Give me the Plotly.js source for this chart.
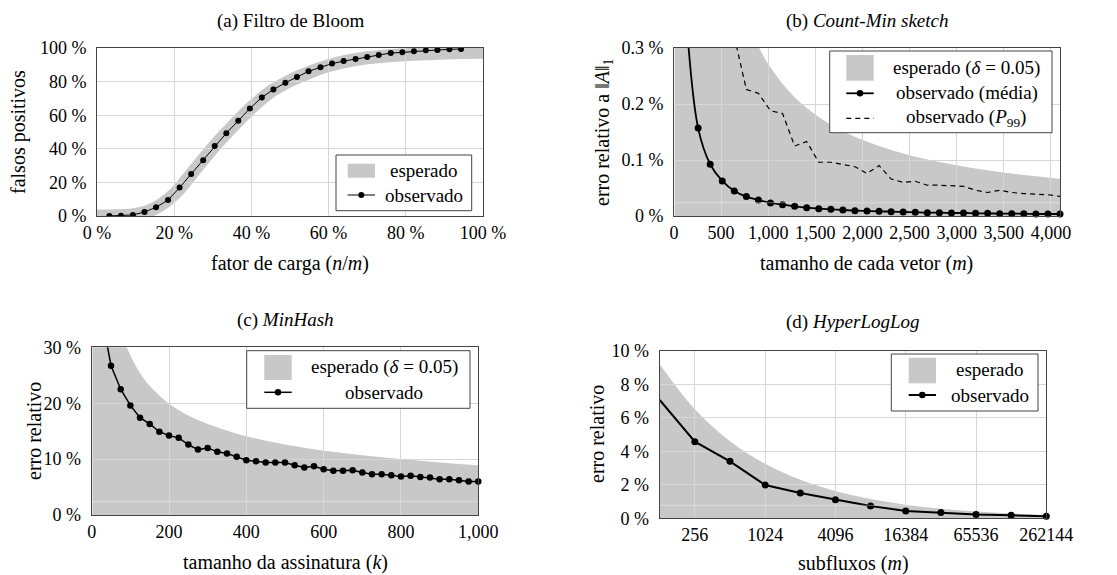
<!DOCTYPE html>
<html>
<head>
<meta charset="utf-8">
<script src="https://cdn.plot.ly/plotly-3.0.1.min.js"></script>
<style>html,body{margin:0;padding:0;background:#fff}#chart{width:1117px;height:575px}</style>
</head>
<body>
<div id="chart"></div>
<script>
// ---------------- DATA ----------------
// (a) Filtro de Bloom
const bloomLoad = [3.2, 6.2, 9.3, 12.3, 15.3, 18.4, 21.4, 24.4, 27.5, 30.5, 33.5, 36.6, 39.6, 42.7, 45.7, 48.8, 51.8, 54.8, 57.9, 60.9, 63.9, 67.0, 70.0, 73.0, 76.1, 79.1, 82.1, 85.2, 88.2, 91.3, 94.3];
const bloomObserved = [0.05, 0.1, 0.6, 2.4, 5.2, 9.5, 16.9, 25.0, 33.2, 41.7, 49.3, 56.7, 64.0, 70.6, 75.3, 79.3, 82.7, 86.1, 88.5, 90.7, 92.2, 93.4, 94.6, 95.8, 97.0, 97.4, 98.0, 98.6, 98.8, 99.2, 99.4];
const bloomExpLoad = [0, 5, 10, 15, 20, 25, 30, 35, 40, 45, 50, 55, 60, 65, 70, 75, 80, 85, 90, 95, 100];
const bloomExpected = [0, 0.1, 0.9, 4.6, 13, 26.5, 40.5, 53, 64.5, 74, 80.5, 85.5, 89.5, 92.3, 94.2, 95.3, 96.0, 96.6, 97.0, 97.3, 97.5];

// (b) Count-Min sketch
const cmsWidth = [128, 256, 384, 512, 640, 768, 896, 1024, 1152, 1280, 1408, 1536, 1664, 1792, 1920, 2048, 2176, 2304, 2432, 2560, 2688, 2816, 2944, 3072, 3200, 3328, 3456, 3584, 3712, 3840, 3968, 4096];
const cmsMean = [0.36, 0.157, 0.0924, 0.0626, 0.0447, 0.0346, 0.0286, 0.0233, 0.0203, 0.0173, 0.0149, 0.0131, 0.0119, 0.0107, 0.0095, 0.0089, 0.0083, 0.0078, 0.0072, 0.0066, 0.0060, 0.0060, 0.0054, 0.0054, 0.0048, 0.0048, 0.0042, 0.0042, 0.0042, 0.0036, 0.0036, 0.0036];
const cmsP99Width = [640, 768, 896, 1024, 1152, 1280, 1408, 1536, 1664, 1792, 1920, 2048, 2176, 2304, 2432, 2560, 2688, 2816, 2944, 3072, 3200, 3328, 3456, 3584, 3712, 3840, 3968, 4096];
const cmsP99 = [0.32, 0.226, 0.219, 0.188, 0.183, 0.125, 0.133, 0.096, 0.096, 0.092, 0.088, 0.076, 0.090, 0.066, 0.060, 0.062, 0.055, 0.055, 0.054, 0.053, 0.046, 0.042, 0.046, 0.042, 0.040, 0.039, 0.038, 0.035];
const cmsExpWidth = [8, 32, 64, 128, 256, 384, 512, 640, 768, 896, 1024, 1280, 1536, 1792, 2048, 2304, 2560, 2816, 3072, 3328, 3584, 3840, 4096];
const cmsExpected = [34, 8.49, 4.25, 2.12, 1.06, 0.708, 0.531, 0.425, 0.354, 0.303, 0.265, 0.212, 0.177, 0.152, 0.133, 0.118, 0.106, 0.0965, 0.0885, 0.0817, 0.0758, 0.0708, 0.0664];

// (c) MinHash
const mhK = [25, 50, 75, 100, 125, 150, 175, 200, 225, 250, 275, 300, 325, 350, 375, 400, 425, 450, 475, 500, 525, 550, 575, 600, 625, 650, 675, 700, 725, 750, 775, 800, 825, 850, 875, 900, 925, 950, 975, 1000];
const mhObserved = [36, 26.7, 22.5, 19.6, 17.4, 16.3, 14.9, 14.2, 13.8, 12.6, 11.7, 12.0, 11.3, 11.0, 10.4, 9.8, 9.6, 9.4, 9.4, 9.4, 8.9, 8.5, 8.7, 8.2, 7.9, 7.9, 8.0, 7.6, 7.3, 7.3, 7.1, 6.9, 7.0, 6.8, 6.7, 6.4, 6.4, 6.2, 6.0, 6.0];
const mhExpK = [2, 10, 25, 50, 75, 100, 125, 150, 200, 250, 300, 400, 500, 600, 700, 800, 900, 1000];
const mhExpected = [200, 89, 56.4, 39.9, 32.6, 28.6, 25.4, 23.1, 19.9, 17.8, 16.3, 14.1, 12.6, 11.5, 10.7, 10.0, 9.4, 8.9];

// (d) HyperLogLog
const hllM = [128, 256, 512, 1024, 2048, 4096, 8192, 16384, 32768, 65536, 131072, 262144];
const hllObserved = [7.06, 4.57, 3.40, 1.99, 1.51, 1.11, 0.74, 0.44, 0.34, 0.22, 0.18, 0.12];
const hllExpected = [9.19, 6.50, 4.60, 3.25, 2.30, 1.63, 1.15, 0.81, 0.57, 0.41, 0.29, 0.20];

// ticks
const pctTicks = [0, 20, 40, 60, 80, 100];
const pctTickText = ['0 %', '20 %', '40 %', '60 %', '80 %', '100 %'];
const cmsXTicks = [0, 500, 1000, 1500, 2000, 2500, 3000, 3500, 4000];
const cmsXTickText = ['0', '500', '1,000', '1,500', '2,000', '2,500', '3,000', '3,500', '4,000'];
const cmsYTicks = [0, 0.1, 0.2, 0.3];
const cmsYTickText = ['0 %', '0.1 %', '0.2 %', '0.3 %'];
const mhXTicks = [0, 200, 400, 600, 800, 1000];
const mhXTickText = ['0', '200', '400', '600', '800', '1,000'];
const mhYTicks = [0, 10, 20, 30];
const mhYTickText = ['0 %', '10 %', '20 %', '30 %'];
const hllXTicks = [256, 1024, 4096, 16384, 65536, 262144];
const hllXTickText = ['256', '1024', '4096', '16384', '65536', '262144'];
const hllYTicks = [0, 2, 4, 6, 8, 10];
const hllYTickText = ['0 %', '2 %', '4 %', '6 %', '8 %', '10 %'];

// ---------------- STYLE / LAYOUT ----------------
const W = 1117, H = 575;
const FONT = 'Liberation Serif, Times New Roman, serif';
const GRAY = '#c8c8c8';
const GRID = '#d6d6d6';
const FRAME = '#444444';
const fx = p => p / W;
const fy = p => 1 - p / H;

const layout = {
  width: W, height: H,
  margin: {l: 0, r: 0, t: 0, b: 0},
  paper_bgcolor: '#ffffff', plot_bgcolor: 'rgba(0,0,0,0)',
  showlegend: false,
  font: {family: FONT, size: 18, color: '#000'},
  shapes: [], annotations: []
};

function sfx(n) { return n === 1 ? '' : String(n); }

function addPanel(i, box, xr, yr, xType, xt, xtt, yt, ytt) {
  const f = i + 1, l = i + 5;
  const xd = [fx(box.l), fx(box.r)], yd = [fy(box.b), fy(box.t)];
  layout['xaxis' + sfx(f)] = {domain: xd, range: xr, type: xType, visible: false, anchor: 'y' + sfx(f), fixedrange: true};
  layout['yaxis' + sfx(f)] = {domain: yd, range: yr, type: 'linear', visible: false, anchor: 'x' + sfx(f), fixedrange: true};
  const common = {showgrid: true, gridcolor: GRID, gridwidth: 1, showline: true, mirror: true,
    linecolor: FRAME, linewidth: 1, zeroline: false, ticks: '', tickmode: 'array',
    tickfont: {family: FONT, size: 18, color: '#000'}, fixedrange: true};
  layout['xaxis' + l] = Object.assign({}, common, {domain: xd, range: xr, type: xType, anchor: 'y' + l,
    tickvals: xt, ticktext: xtt, ticklabelstandoff: 0});
  layout['yaxis' + l] = Object.assign({}, common, {domain: yd, range: yr, type: 'linear', anchor: 'x' + l,
    tickvals: yt, ticktext: ytt, ticklabelstandoff: 6});
}

const boxA = {l: 97, r: 483, t: 48, b: 216};
const boxB = {l: 674, r: 1060, t: 48, b: 216};
const boxC = {l: 91.7, r: 478.3, t: 347.3, b: 515};
const boxD = {l: 659.7, r: 1046.3, t: 350.7, b: 518.3};

addPanel(0, boxA, [0, 100], [0, 100], 'linear', pctTicks, pctTickText, pctTicks, pctTickText);
addPanel(1, boxB, [0, 4096], [0, 0.3], 'linear', cmsXTicks, cmsXTickText, cmsYTicks, cmsYTickText);
addPanel(2, boxC, [0, 1000], [0, 30], 'linear', mhXTicks, mhXTickText, mhYTicks, mhYTickText);
addPanel(3, boxD, [Math.log10(128), Math.log10(262144)], [0, 10], 'log', hllXTicks, hllXTickText, hllYTicks, hllYTickText);

// ---------------- TRACES ----------------
const base = {hoverinfo: 'skip', showlegend: false};
const traces = [
  Object.assign({}, base, {name: 'esperado', x: bloomExpLoad, y: bloomExpected, xaxis: 'x', yaxis: 'y',
    mode: 'lines', line: {color: GRAY, width: 13, shape: 'spline'}}),
  Object.assign({}, base, {name: 'esperado (δ = 0.05)', x: cmsExpWidth, y: cmsExpected, xaxis: 'x2', yaxis: 'y2',
    mode: 'lines', fill: 'tozeroy', fillcolor: GRAY, line: {color: GRAY, width: 0, shape: 'spline'}}),
  Object.assign({}, base, {name: 'esperado (δ = 0.05)', x: mhExpK, y: mhExpected, xaxis: 'x3', yaxis: 'y3',
    mode: 'lines', fill: 'tozeroy', fillcolor: GRAY, line: {color: GRAY, width: 0, shape: 'spline'}}),
  Object.assign({}, base, {name: 'esperado', x: hllM, y: hllExpected, xaxis: 'x4', yaxis: 'y4',
    mode: 'lines', fill: 'tozeroy', fillcolor: GRAY, line: {color: GRAY, width: 0, shape: 'spline'}}),

  Object.assign({}, base, {name: 'observado', x: bloomLoad, y: bloomObserved, xaxis: 'x5', yaxis: 'y5',
    mode: 'lines+markers', line: {color: '#000', width: 1}, marker: {color: '#000', size: 6}}),
  Object.assign({}, base, {name: 'observado (P99)', x: cmsP99Width, y: cmsP99, xaxis: 'x6', yaxis: 'y6',
    mode: 'lines', line: {color: '#000', width: 1.2, dash: '5px,4px'}}),
  Object.assign({}, base, {name: 'observado (média)', x: cmsWidth, y: cmsMean, xaxis: 'x6', yaxis: 'y6',
    mode: 'lines+markers', cliponaxis: false, line: {color: '#000', width: 1.8, shape: 'spline'}, marker: {color: '#000', size: 7}}),
  Object.assign({}, base, {name: 'observado', x: mhK, y: mhObserved, xaxis: 'x7', yaxis: 'y7',
    mode: 'lines+markers', cliponaxis: false, line: {color: '#000', width: 1.5}, marker: {color: '#000', size: 6.5}}),
  Object.assign({}, base, {name: 'observado', x: hllM, y: hllObserved, xaxis: 'x8', yaxis: 'y8',
    mode: 'lines+markers', cliponaxis: false, line: {color: '#000', width: 2}, marker: {color: '#000', size: 7}})
];

// ---------------- TEXT: titles and axis labels ----------------
function txt(text, x, y, size, angle) {
  layout.annotations.push({text: text, x: fx(x), y: fy(y), xref: 'paper', yref: 'paper',
    xanchor: 'center', yanchor: 'middle', showarrow: false, textangle: angle || 0,
    font: {family: FONT, size: size, color: '#000'}});
}
txt('(a) Filtro de Bloom', 290, 21, 19);
txt('(b) <i>Count-Min sketch</i>', 867, 21, 19);
txt('(c) <i>MinHash</i>', 285, 320, 19);
txt('(d) <i>HyperLogLog</i>', 853, 322, 19);

txt('fator de carga (<i>n</i>/<i>m</i>)', 290, 263, 20);
txt('falsos positivos', 19, 132, 20, -90);
txt('tamanho de cada vetor (<i>m</i>)', 866, 263, 20);
txt('erro relativo a ‖<i>A</i>‖<sub>1</sub>', 604, 132, 20, -90);
txt('tamanho da assinatura (<i>k</i>)', 285, 562, 20);
txt('erro relativo', 34, 431, 20, -90);
txt('subfluxos (<i>m</i>)', 853, 563, 20);
txt('erro relativo', 597, 434, 20, -90);

// ---------------- LEGENDS (drawn as boxes + real text) ----------------
function rect(l, t, r, b, fill, lineColor, lw) {
  layout.shapes.push({type: 'rect', xref: 'paper', yref: 'paper', layer: 'above',
    x0: fx(l), x1: fx(r), y0: fy(b), y1: fy(t), fillcolor: fill,
    line: {color: lineColor || fill, width: lw === undefined ? 0 : lw}});
}
function hline(l, r, y, lw, dash) {
  layout.shapes.push({type: 'line', xref: 'paper', yref: 'paper', layer: 'above',
    x0: fx(l), x1: fx(r), y0: fy(y), y1: fy(y), line: {color: '#000', width: lw, dash: dash || 'solid'}});
}
function dot(cx, cy, rad) {
  layout.shapes.push({type: 'circle', xref: 'paper', yref: 'paper', layer: 'above',
    x0: fx(cx - rad), x1: fx(cx + rad), y0: fy(cy + rad), y1: fy(cy - rad), fillcolor: '#000', line: {width: 0}});
}
function legText(text, x, y) { txt(text, x, y, 19); }

// (a)
rect(336, 155, 471.7, 210.7, '#ffffff', FRAME, 1);
rect(347.7, 163.7, 375, 177.7, GRAY);
legText('esperado', 423.5, 170.7);
hline(347.7, 375, 195, 1);
dot(361.3, 195, 3);
legText('observado', 424, 195);
// (b)
rect(829.7, 51, 1052, 132.7, '#ffffff', FRAME, 1);
rect(846.3, 55, 873.7, 80.7, GRAY);
legText('esperado (<i>δ</i> = 0.05)', 966, 68.3);
hline(846.3, 873.7, 93.3, 1.8);
dot(860, 93.3, 3.3);
legText('observado (média)', 966.7, 93.3);
hline(846.3, 873.7, 118.3, 1.2, '5px,4px');
legText('observado (<i>P</i><sub>99</sub>)', 966, 118.3);
// (c)
rect(246.7, 350.7, 470, 408.3, '#ffffff', FRAME, 1);
rect(264.3, 355, 291.7, 380, GRAY);
legText('esperado (<i>δ</i> = 0.05)', 384.2, 366.7);
hline(264.3, 291.7, 392.3, 1.5);
dot(278, 392.3, 3.2);
legText('observado', 384.2, 392.3);
// (d)
rect(891.3, 354, 1038, 411, '#ffffff', FRAME, 1);
rect(908.7, 357.7, 936, 383.3, GRAY);
legText('esperado', 990.3, 370);
hline(908.7, 936, 395, 2);
dot(922.3, 395, 3.3);
legText('observado', 990.5, 395);

// faint light streak seen in the shaded regions near the bottom
[[674, 1060, 202.7], [91.7, 478.3, 501.7], [659.7, 1046.3, 505.3]].forEach(s => {
  layout.shapes.push({type: 'line', xref: 'paper', yref: 'paper', layer: 'above',
    x0: fx(s[0]), x1: fx(s[1]), y0: fy(s[2]), y1: fy(s[2]), line: {color: 'rgba(255,255,255,0.4)', width: 1}});
});

Plotly.newPlot('chart', traces, layout, {displayModeBar: false, staticPlot: true});
</script>
</body>
</html>
